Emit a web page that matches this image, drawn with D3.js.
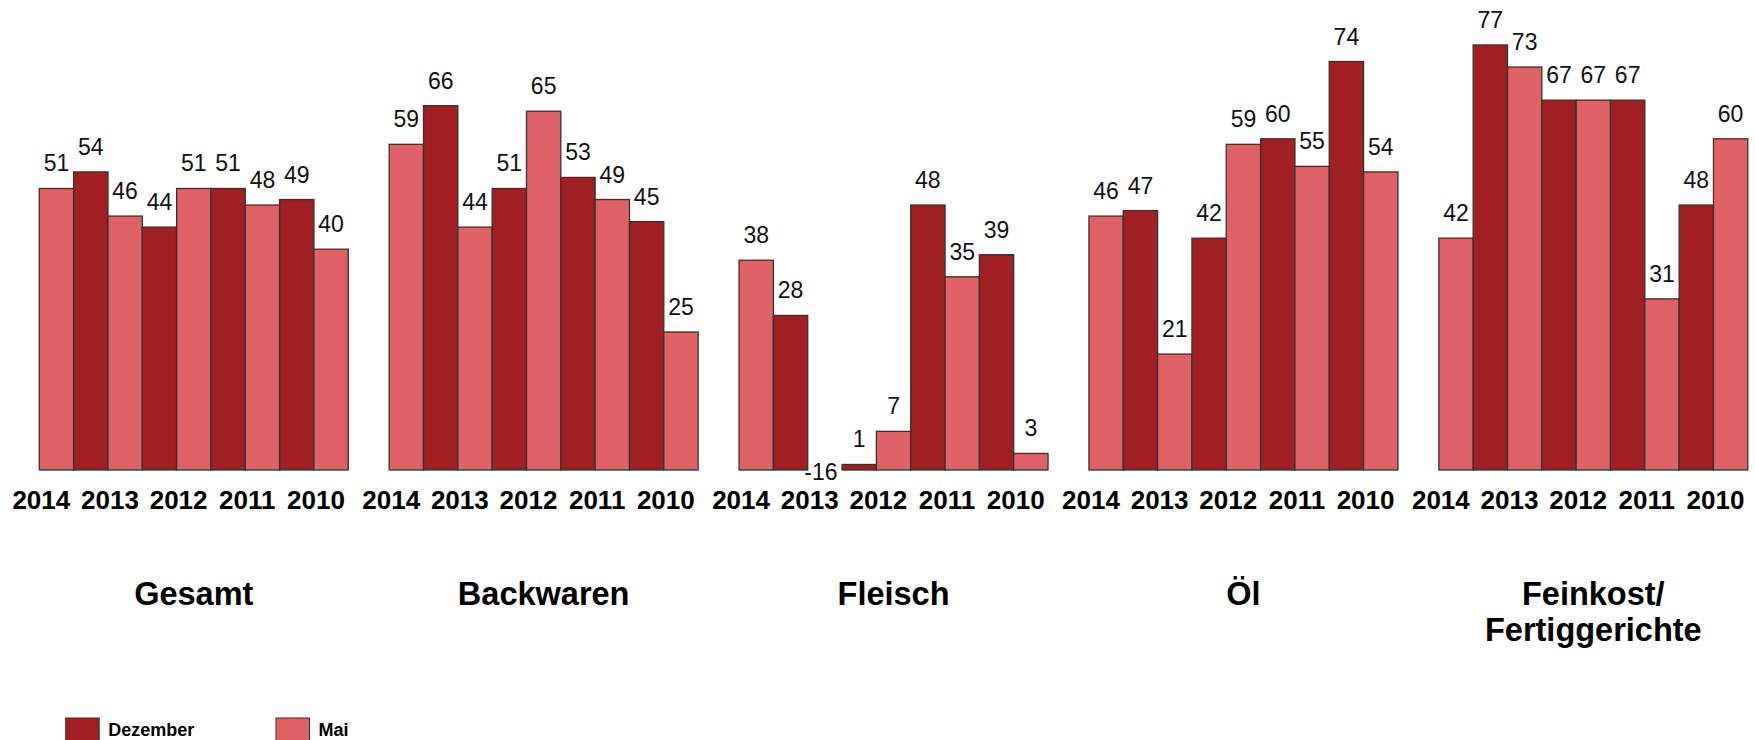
<!DOCTYPE html>
<html>
<head>
<meta charset="utf-8">
<script src="https://cdn.jsdelivr.net/npm/d3@7"></script>
<style>
  html, body { margin: 0; padding: 0; background: #fff; }
  svg { display: block; font-family: Arial, "Liberation Sans", sans-serif; }
</style>
</head>
<body>
<svg id="chart" width="1755" height="740"></svg>
<script>
// ---- data ----
const categories = ["Gesamt", "Backwaren", "Fleisch", "Öl", "Feinkost/\nFertiggerichte"];
const periods = ["Mai 2014", "Dez 2013", "Mai 2013", "Dez 2012", "Mai 2012", "Dez 2011", "Mai 2011", "Dez 2010", "Mai 2010"];
const periodSeries = ["Mai", "Dezember", "Mai", "Dezember", "Mai", "Dezember", "Mai", "Dezember", "Mai"];
const yearLabels = ["2014", "2013", "2012", "2011", "2010"];
const yearLabelPeriods = ["Mai 2014", "Mai 2013", "Mai 2012", "Mai 2011", "Mai 2010"];
const valuesGesamt = [51, 54, 46, 44, 51, 51, 48, 49, 40];
const valuesBackwaren = [59, 66, 44, 51, 65, 53, 49, 45, 25];
const valuesFleisch = [38, 28, -16, 1, 7, 48, 35, 39, 3];
const valuesOel = [46, 47, 21, 42, 59, 60, 55, 74, 54];
const valuesFeinkost = [42, 77, 73, 67, 67, 67, 31, 48, 60];
const legendSeries = ["Dezember", "Mai"];

const seriesValues = [valuesGesamt, valuesBackwaren, valuesFleisch, valuesOel, valuesFeinkost];
const colors = { "Dezember": "#a11f21", "Mai": "#e06264" };

// ---- scales ----
const svg = d3.select("#chart");
const x0 = d3.scaleBand().domain(categories).range([39.3, 1747.8]).paddingInner(0.117).paddingOuter(0);
const x1 = d3.scaleBand().domain(periods).range([0, x0.bandwidth()]).padding(0);
const y = d3.scaleLinear().domain([0, 80]).range([470, 28.4]);
const color = d3.scaleOrdinal().domain(legendSeries).range(legendSeries.map(s => colors[s]));

const rows = [];
categories.forEach((c, ci) => {
  periods.forEach((p, pi) => {
    rows.push({ cat: c, period: p, series: periodSeries[pi], value: seriesValues[ci][pi] });
  });
});

const g = svg.append("g");

// bars
g.selectAll("rect.bar").data(rows).enter().append("rect")
  .attr("class", "bar")
  .attr("x", d => x0(d.cat) + x1(d.period))
  .attr("width", x1.bandwidth())
  .attr("y", d => y(Math.max(0, d.value)))
  .attr("height", d => Math.max(0, y(0) - y(Math.max(0, d.value))))
  .attr("fill", d => color(d.series))
  .attr("stroke", "#333")
  .attr("stroke-width", 1.3)
  .attr("display", d => d.value <= 0 ? "none" : null);

// value labels
g.selectAll("text.val").data(rows).enter().append("text")
  .attr("class", "val")
  .attr("x", d => x0(d.cat) + x1(d.period) + x1.bandwidth() / 2 - (d.value < 0 ? 4 : 0))
  .attr("y", d => d.value < 0 ? y(0) + 10 : y(d.value) - 17)
  .attr("text-anchor", "middle")
  .attr("font-size", 23)
  .attr("fill", "#111")
  .text(d => d.value);

// year labels (centered at the left edge of each Mai bar)
categories.forEach(c => {
  g.selectAll(null).data(yearLabels).enter().append("text")
    .attr("x", (d, i) => x0(c) + x1(yearLabelPeriods[i]) + 2)
    .attr("y", 509)
    .attr("text-anchor", "middle")
    .attr("font-size", 26)
    .attr("font-weight", "bold")
    .attr("fill", "#000")
    .text(d => d);
});

// category titles
categories.forEach(c => {
  const t = g.append("text")
    .attr("x", x0(c) + x0.bandwidth() / 2)
    .attr("y", 605)
    .attr("text-anchor", "middle")
    .attr("font-size", 32.5)
    .attr("font-weight", "bold")
    .attr("fill", "#000");
  c.split("\n").forEach((line, i) => {
    t.append("tspan").attr("x", x0(c) + x0.bandwidth() / 2).attr("dy", i === 0 ? 0 : 36).text(line);
  });
});

// legend
const legendX = d3.scalePoint().domain(legendSeries).range([65.7, 276]);
const lg = svg.append("g").selectAll("g").data(legendSeries).enter().append("g")
  .attr("transform", d => `translate(${legendX(d)},718)`);
lg.append("rect").attr("width", 33.5).attr("height", 26)
  .attr("fill", d => color(d)).attr("stroke", "#333").attr("stroke-width", 1);
lg.append("text").attr("x", 42.5).attr("y", 18)
  .attr("font-size", 18).attr("font-weight", "bold").attr("fill", "#000")
  .text(d => d);
</script>
</body>
</html>
